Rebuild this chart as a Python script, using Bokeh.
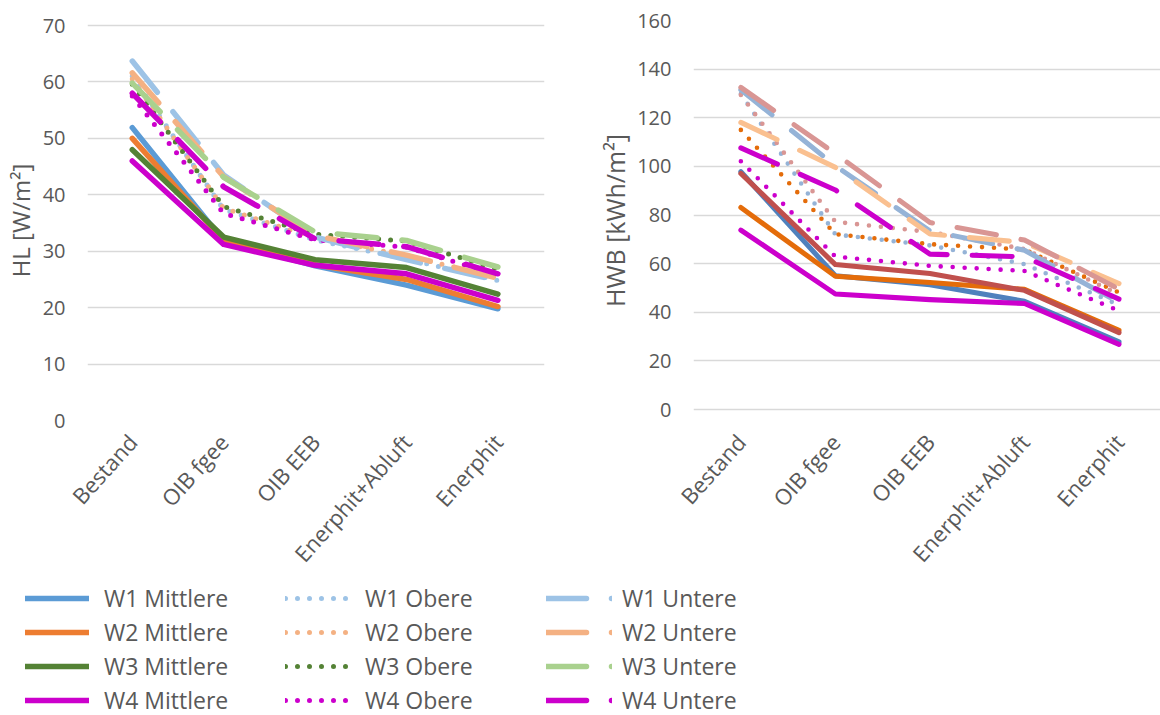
import math
from bokeh.plotting import figure
from bokeh.models import Range1d, FixedTicker, Legend, LegendItem
from bokeh.layouts import column, row
from bokeh.embed import file_html
from bokeh.resources import INLINE

# ---------------- data ----------------
categories = ["Bestand", "OIB fgee", "OIB EEB", "Enerphit+Abluft", "Enerphit"]
series_names = ["W1 Mittlere", "W2 Mittlere", "W3 Mittlere", "W4 Mittlere",
                "W1 Obere", "W2 Obere", "W3 Obere", "W4 Obere",
                "W1 Untere", "W2 Untere", "W3 Untere", "W4 Untere"]
hl_yticks = [0, 10, 20, 30, 40, 50, 60, 70]
hwb_yticks = [0, 20, 40, 60, 80, 100, 120, 140, 160]

# HL [W/m²]
hl_w1_mittlere = [51.9, 31.8, 27.4, 24.0, 19.8]
hl_w2_mittlere = [50.0, 31.9, 27.6, 25.0, 20.2]
hl_w3_mittlere = [48.0, 32.5, 28.5, 27.1, 22.4]
hl_w4_mittlere = [46.0, 31.2, 27.5, 26.0, 21.3]
hl_w1_obere = [61.0, 37.4, 32.0, 28.6, 24.8]
hl_w2_obere = [60.5, 37.6, 32.3, 29.2, 25.3]
hl_w3_obere = [59.6, 37.9, 33.0, 31.8, 26.8]
hl_w4_obere = [57.5, 36.7, 32.0, 30.7, 25.8]
hl_w1_untere = [63.7, 43.5, 32.5, 28.5, 24.8]
hl_w2_untere = [61.6, 43.2, 32.8, 29.3, 25.2]
hl_w3_untere = [59.8, 43.1, 33.4, 31.9, 27.2]
hl_w4_untere = [58.0, 41.4, 32.2, 30.8, 26.0]

# HWB [kWh/m²]
hwb_w1_mittlere = [97.8, 55.0, 51.3, 44.5, 27.8]
hwb_w2_mittlere = [83.1, 54.8, 52.2, 49.4, 32.6]
hwb_w3_mittlere = [97.1, 59.6, 55.9, 49.0, 31.6]
hwb_w4_mittlere = [73.8, 47.5, 45.2, 43.6, 26.8]
hwb_w1_obere = [129.8, 72.0, 67.5, 59.8, 43.0]
hwb_w2_obere = [115.0, 72.1, 68.0, 65.8, 48.1]
hwb_w3_obere = [129.4, 77.2, 73.0, 66.0, 47.4]
hwb_w4_obere = [102.1, 62.9, 59.1, 57.0, 40.6]
hwb_w1_untere = [131.5, 100.2, 73.5, 65.5, 44.0]
hwb_w2_untere = [118.1, 99.6, 72.2, 68.7, 51.8]
hwb_w3_untere = [132.5, 105.2, 76.9, 69.7, 49.5]
hwb_w4_untere = [107.6, 90.3, 63.9, 62.8, 45.4]

hl_series = [hl_w1_mittlere, hl_w2_mittlere, hl_w3_mittlere, hl_w4_mittlere,
             hl_w1_obere, hl_w2_obere, hl_w3_obere, hl_w4_obere,
             hl_w1_untere, hl_w2_untere, hl_w3_untere, hl_w4_untere]
hwb_series = [hwb_w1_mittlere, hwb_w2_mittlere, hwb_w3_mittlere, hwb_w4_mittlere,
              hwb_w1_obere, hwb_w2_obere, hwb_w3_obere, hwb_w4_obere,
              hwb_w1_untere, hwb_w2_untere, hwb_w3_untere, hwb_w4_untere]

# ---------------- styles ----------------
hl_colors = ["#5B9BD5", "#ED7D31", "#548235", "#CC00CC",
             "#9DC3E6", "#F4B183", "#548235", "#CC00CC",
             "#9DC3E6", "#F4B183", "#A9D18E", "#CC00CC"]
hwb_colors = ["#4F81BD", "#E46C0A", "#C0504D", "#CC00CC",
              "#95B3D7", "#E46C0A", "#D99694", "#CC00CC",
              "#95B3D7", "#FAC090", "#D99694", "#CC00CC"]
kinds = ["solid"] * 4 + ["dot"] * 4 + ["dash"] * 4
DASH = {"solid": "solid", "dot": "0 12", "dash": "40 25"}
WIDTH = {"solid": 5.5, "dot": 5.0, "dash": 5.5}

FONT = "Open Sans"
TEXT = "#595959"
GRID = "#D9D9D9"

H = 581            # height of the chart row
FRAME_TOP = 20     # common frame top (px)
FRAME_BOT = 420    # common frame bottom (px)


def make_chart(width, bl, br, x_start, x_end, y_start, y_end, yticks,
               ylabel, ylabel_size, title_standoff, series, colors, wscale):
    p = figure(width=width, height=H, output_backend="svg", toolbar_location=None,
               x_range=Range1d(x_start, x_end), y_range=Range1d(y_start, y_end),
               min_border_left=bl, min_border_right=br, min_border_top=FRAME_TOP,
               min_border_bottom=H - FRAME_BOT)
    p.outline_line_color = None
    p.xgrid.visible = False
    p.ygrid.grid_line_color = GRID
    p.ygrid.grid_line_width = 1.6
    p.yaxis.ticker = FixedTicker(ticks=yticks)
    p.xaxis.ticker = FixedTicker(ticks=list(range(len(categories))))
    p.xaxis.major_label_overrides = {i: c for i, c in enumerate(categories)}
    p.xaxis.major_label_orientation = math.radians(48)
    for ax in (p.xaxis, p.yaxis):
        ax.axis_line_color = None
        ax.major_tick_line_color = None
        ax.minor_tick_line_color = None
        ax.major_tick_out = 0
        ax.major_tick_in = 0
        ax.major_label_text_font = FONT
        ax.major_label_text_color = TEXT
    p.yaxis.major_label_text_font_size = "20px"
    p.xaxis.major_label_text_font_size = "22px"
    p.yaxis.major_label_standoff = 22
    p.xaxis.major_label_standoff = 17
    p.yaxis.axis_label = ylabel
    p.yaxis.axis_label_text_font = FONT
    p.yaxis.axis_label_text_font_size = ylabel_size
    p.yaxis.axis_label_text_font_style = "normal"
    p.yaxis.axis_label_text_color = TEXT
    p.yaxis.axis_label_standoff = title_standoff
    xs = list(range(len(categories)))
    for vals, col, kind in zip(series, colors, kinds):
        p.line(xs, vals, line_color=col, line_width=WIDTH[kind] * wscale,
               line_dash=DASH[kind], line_cap="round", line_join="round")
    return p


# left chart: frame x 83..544, 70 at y=25, 0 at y=420
hl_ppu = (420 - 25) / 70.0
p1 = make_chart(595, 83, 51, -0.49, 4.51,
                0, 70 + (25 - FRAME_TOP) / hl_ppu, hl_yticks,
                "HL [W/m²]", "24px", 3, hl_series, hl_colors, 1.0)
# right chart: frame x 687..1160, 160 at y=20, 0 at y=409
hwb_ppu = (409 - 20) / 160.0
p2 = make_chart(565, 92, 0, -0.501, 4.439,
                -(FRAME_BOT - 409) / hwb_ppu, 160, hwb_yticks,
                "HWB [kWh/m²]", "25px", 2, hwb_series, hwb_colors, 0.92)

# ---------------- legend figure ----------------
LH = 715 - H
pl = figure(width=1160, height=LH, output_backend="svg", toolbar_location=None,
            x_range=Range1d(100, 101), y_range=Range1d(100, 101),
            x_axis_location=None, y_axis_location=None,
            min_border_left=0, min_border_right=0, min_border_top=0, min_border_bottom=0)
pl.outline_line_color = None
pl.xgrid.visible = False
pl.ygrid.visible = False
pl.background_fill_alpha = 0
pl.border_fill_alpha = 0
xs = list(range(len(categories)))
leg_renderers = []
for vals, col, kind in zip(hl_series, hl_colors, kinds):
    r = pl.line(xs, vals, line_color=col, line_width=WIDTH[kind],
                line_dash=DASH[kind], line_cap="round", line_join="round")
    leg_renderers.append(r)

ROW = 34
col_specs = [(25, 64, 15), (285, 64, 16), (546, 66, 10)]
for c, (x0, gw, standoff) in enumerate(col_specs):
    items = [LegendItem(label=series_names[c * 4 + k], renderers=[leg_renderers[c * 4 + k]])
             for k in range(4)]
    leg = Legend(items=items, location=(x0, LH - 4 * ROW), orientation="vertical",
                 glyph_width=gw, glyph_height=ROW, label_height=ROW, spacing=0,
                 padding=0, margin=0, label_standoff=standoff,
                 border_line_color=None, background_fill_alpha=0,
                 label_text_font=FONT, label_text_font_size="23px",
                 label_text_color=TEXT)
    pl.add_layout(leg, "center")

layout = column(row(p1, p2), pl, spacing=0)
open("out.html", "w").write(file_html(layout, INLINE))
